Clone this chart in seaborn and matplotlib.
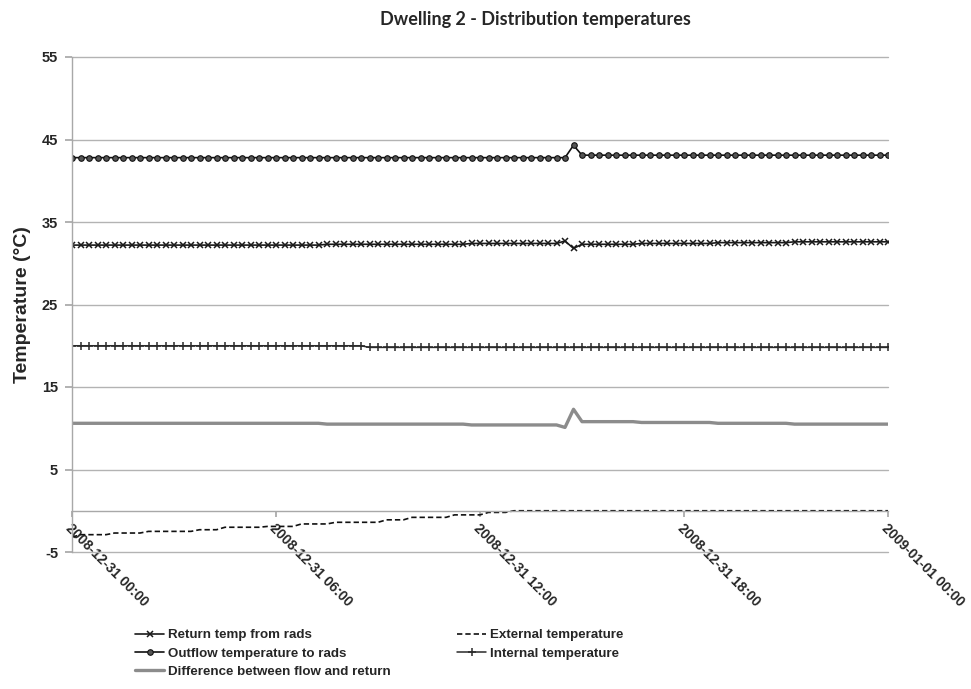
import numpy as np
import pandas as pd
import matplotlib
matplotlib.use("Agg")
import matplotlib.pyplot as plt
import matplotlib.transforms as mtransforms
import seaborn as sns

# ---------------- data (15-minute readings, 2008-12-31 00:00 .. 2009-01-01 00:00) ----------------
start_time = "2008-12-31 00:00"
n_points = 97

outflow = [
    42.8, 42.8, 42.8, 42.8, 42.8, 42.8, 42.8, 42.8, 42.8, 42.8, 42.8, 42.8,
    42.8, 42.8, 42.8, 42.8, 42.8, 42.8, 42.8, 42.8, 42.8, 42.8, 42.8, 42.8,
    42.8, 42.8, 42.8, 42.8, 42.8, 42.8, 42.8, 42.8, 42.8, 42.8, 42.8, 42.8,
    42.8, 42.8, 42.8, 42.8, 42.8, 42.8, 42.8, 42.8, 42.8, 42.8, 42.8, 42.8,
    42.8, 42.8, 42.8, 42.8, 42.8, 42.8, 42.8, 42.8, 42.8, 42.8, 42.8, 44.3,
    43.1, 43.1, 43.1, 43.1, 43.1, 43.1, 43.1, 43.1, 43.1, 43.1, 43.1, 43.1,
    43.1, 43.1, 43.1, 43.1, 43.1, 43.1, 43.1, 43.1, 43.1, 43.1, 43.1, 43.1,
    43.1, 43.1, 43.1, 43.1, 43.1, 43.1, 43.1, 43.1, 43.1, 43.1, 43.1, 43.1,
    43.1,
]

return_temp = [
    32.2, 32.2, 32.2, 32.2, 32.2, 32.2, 32.2, 32.2, 32.2, 32.2, 32.2, 32.2,
    32.2, 32.2, 32.2, 32.2, 32.2, 32.2, 32.2, 32.2, 32.2, 32.2, 32.2, 32.2,
    32.2, 32.2, 32.2, 32.2, 32.2, 32.2, 32.3, 32.3, 32.3, 32.3, 32.3, 32.3,
    32.3, 32.3, 32.3, 32.3, 32.3, 32.3, 32.3, 32.3, 32.3, 32.3, 32.3, 32.4,
    32.4, 32.4, 32.4, 32.4, 32.4, 32.4, 32.4, 32.4, 32.4, 32.4, 32.7, 31.8,
    32.3, 32.3, 32.3, 32.3, 32.3, 32.3, 32.3, 32.4, 32.4, 32.4, 32.4, 32.4,
    32.4, 32.4, 32.4, 32.4, 32.5, 32.5, 32.5, 32.5, 32.5, 32.5, 32.5, 32.5,
    32.5, 32.6, 32.6, 32.6, 32.6, 32.6, 32.6, 32.6, 32.6, 32.6, 32.6, 32.6,
    32.6,
]

difference = [
    10.6, 10.6, 10.6, 10.6, 10.6, 10.6, 10.6, 10.6, 10.6, 10.6, 10.6, 10.6,
    10.6, 10.6, 10.6, 10.6, 10.6, 10.6, 10.6, 10.6, 10.6, 10.6, 10.6, 10.6,
    10.6, 10.6, 10.6, 10.6, 10.6, 10.6, 10.5, 10.5, 10.5, 10.5, 10.5, 10.5,
    10.5, 10.5, 10.5, 10.5, 10.5, 10.5, 10.5, 10.5, 10.5, 10.5, 10.5, 10.4,
    10.4, 10.4, 10.4, 10.4, 10.4, 10.4, 10.4, 10.4, 10.4, 10.4, 10.1, 12.3,
    10.8, 10.8, 10.8, 10.8, 10.8, 10.8, 10.8, 10.7, 10.7, 10.7, 10.7, 10.7,
    10.7, 10.7, 10.7, 10.7, 10.6, 10.6, 10.6, 10.6, 10.6, 10.6, 10.6, 10.6,
    10.6, 10.5, 10.5, 10.5, 10.5, 10.5, 10.5, 10.5, 10.5, 10.5, 10.5, 10.5,
    10.5,
]

internal = [
    20.0, 20.0, 20.0, 20.0, 20.0, 20.0, 20.0, 20.0, 20.0, 20.0, 20.0, 20.0,
    20.0, 20.0, 20.0, 20.0, 20.0, 20.0, 20.0, 20.0, 20.0, 20.0, 20.0, 20.0,
    20.0, 20.0, 20.0, 20.0, 20.0, 20.0, 20.0, 20.0, 20.0, 20.0, 20.0, 19.8,
    19.8, 19.8, 19.8, 19.8, 19.8, 19.8, 19.8, 19.8, 19.8, 19.8, 19.8, 19.8,
    19.8, 19.8, 19.8, 19.8, 19.8, 19.8, 19.8, 19.8, 19.8, 19.8, 19.8, 19.8,
    19.8, 19.8, 19.8, 19.8, 19.8, 19.8, 19.8, 19.8, 19.8, 19.8, 19.8, 19.8,
    19.8, 19.8, 19.8, 19.8, 19.8, 19.8, 19.8, 19.8, 19.8, 19.8, 19.8, 19.8,
    19.8, 19.8, 19.8, 19.8, 19.8, 19.8, 19.8, 19.8, 19.8, 19.8, 19.8, 19.8,
    19.8,
]

external = [
    -3.2, -2.9, -2.9, -2.9, -2.9, -2.7, -2.7, -2.7, -2.7, -2.5, -2.5, -2.5,
    -2.5, -2.5, -2.5, -2.3, -2.3, -2.3, -2.0, -2.0, -2.0, -2.0, -2.0, -1.9,
    -1.9, -1.9, -1.9, -1.6, -1.6, -1.6, -1.6, -1.4, -1.4, -1.4, -1.4, -1.4,
    -1.4, -1.1, -1.1, -1.1, -0.8, -0.8, -0.8, -0.8, -0.8, -0.5, -0.5, -0.5,
    -0.5, -0.2, -0.2, -0.2, 0.0, 0.0, 0.0, 0.0, 0.0, 0.0, 0.0, 0.0,
    0.0, 0.0, 0.0, 0.0, 0.0, 0.0, 0.0, 0.0, 0.0, 0.0, 0.0, 0.0,
    0.0, 0.0, 0.0, 0.0, 0.0, 0.0, 0.0, 0.0, 0.0, 0.0, 0.0, 0.0,
    0.0, 0.0, 0.0, 0.0, 0.0, 0.0, 0.0, 0.0, 0.0, 0.0, 0.0, 0.0,
    0.0,
]

tick_times = ["2008-12-31 00:00", "2008-12-31 06:00", "2008-12-31 12:00",
              "2008-12-31 18:00", "2009-01-01 00:00"]
tick_labels = ["2008-12-31 00:00", "2008-12-31 06:00", "2008-12-31 12:00",
               "2008-12-31 18:00", "2009-01-01 00:00"]
y_ticks = [-5, 5, 15, 25, 35, 45, 55]

labels = {
    "ret": "Return temp from rads",
    "out": "Outflow temperature to rads",
    "diff": "Difference between flow and return",
    "ext": "External temperature",
    "int": "Internal temperature",
}

times = pd.date_range(start_time, periods=n_points, freq="15min")
df = pd.DataFrame({
    "time": times,
    "out": outflow,
    "ret": return_temp,
    "diff": difference,
    "int": internal,
    "ext": external,
})

# ---------------- figure ----------------
sns.set_theme(style="white")
plt.rcParams["font.family"] = ["Liberation Sans", "DejaVu Sans"]
plt.rcParams["axes.unicode_minus"] = False

W, H = 971, 689
fig = plt.figure(figsize=(W / 100, H / 100), dpi=100)
ax = fig.add_axes([72 / W, 1 - 552 / H, 816 / W, 495 / H])

sns.lineplot(data=df, x="time", y="diff", ax=ax, color="#8c8c8c", lw=2.4,
             label=labels["diff"])
sns.lineplot(data=df, x="time", y="ext", ax=ax, color="#111111", lw=1.2,
             linestyle=(0, (3.2, 1.8)), label=labels["ext"])
sns.lineplot(data=df, x="time", y="int", ax=ax, color="#2a2a2a", lw=1.1,
             marker="+", markersize=5.5, markeredgewidth=1.1,
             markeredgecolor="#2a2a2a", label=labels["int"])
sns.lineplot(data=df, x="time", y="ret", ax=ax, color="#1a1a1a", lw=1.2,
             marker="x", markersize=4, markeredgewidth=1.1,
             markeredgecolor="#1a1a1a", label=labels["ret"])
sns.lineplot(data=df, x="time", y="out", ax=ax, color="#111111", lw=1.2,
             marker="o", markersize=4, markerfacecolor="#555555",
             markeredgecolor="#111111", markeredgewidth=0.8,
             label=labels["out"])

ax.set_ylim(-5, 55)
ax.set_yticks(y_ticks)
ax.set_xlim(times[0], times[-1])
ax.set_xticks(pd.to_datetime(tick_times))
ax.set_xticklabels(tick_labels)

ax.yaxis.grid(True, color="#b3b3b3", lw=1.0)
ax.xaxis.grid(False)
ax.set_axisbelow(True)
for gl in ax.yaxis.get_gridlines():
    gl.set_clip_on(False)

for s in ["top", "right"]:
    ax.spines[s].set_visible(False)
ax.spines["left"].set_color("#a8a8a8")
ax.spines["left"].set_linewidth(1.0)
ax.spines["bottom"].set_position(("data", 0))
ax.spines["bottom"].set_color("#a8a8a8")
ax.spines["bottom"].set_linewidth(1.0)

ax.tick_params(axis="y", which="both", left=True, direction="out", length=5,
               color="#a8a8a8", labelsize=10.5, pad=5)
ax.tick_params(axis="x", which="both", bottom=True, direction="out", length=4,
               color="#a8a8a8", labelsize=10, pad=7)
for lbl in ax.get_yticklabels():
    lbl.set_fontweight("bold")
shift = mtransforms.ScaledTranslation(-4 / 100, 0, fig.dpi_scale_trans)
for lbl in ax.get_xticklabels():
    lbl.set_fontweight("bold")
    lbl.set_rotation(-45)
    lbl.set_ha("left")
    lbl.set_va("center")
    lbl.set_rotation_mode("anchor")
    lbl.set_transform(lbl.get_transform() + shift)

ax.set_xlabel("")
ax.set_ylabel("Temperature (°C)", fontsize=14, fontweight="bold", labelpad=8)

fig.text(535 / W, 1 - 19 / H, "Dwelling 2 - Distribution temperatures",
         ha="center", va="center", fontsize=13, fontweight="bold",
         family=["Lato", "DejaVu Sans"])

# legend in Excel order
handles, lbls = ax.get_legend_handles_labels()
lookup = dict(zip(lbls, handles))
order = [labels["ret"], labels["out"], labels["diff"], labels["ext"], labels["int"]]
ax.legend_.remove()
fig.legend([lookup[o] for o in order], order, loc="upper left",
           bbox_to_anchor=(135 / W, 1 - 629 / H), ncol=2, frameon=False,
           columnspacing=5.0, handlelength=2.2, handletextpad=0.25,
           labelspacing=0.45, borderaxespad=0, borderpad=0,
           prop={"weight": "bold", "size": 9.6})

fig.savefig("out.png", dpi=100)
